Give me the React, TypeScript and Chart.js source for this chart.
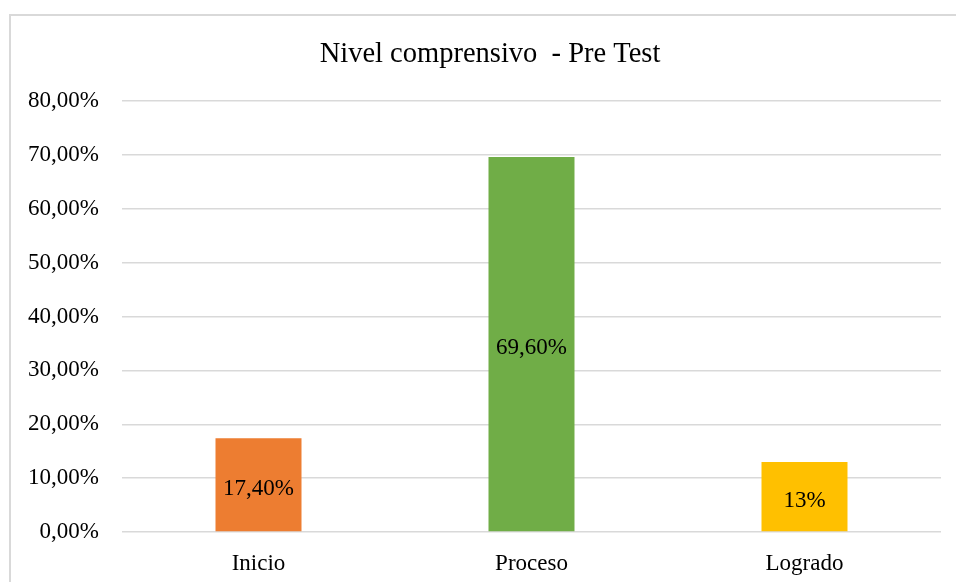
import React, { useEffect, useRef } from "react";
import { Chart, registerables } from "chart.js";

Chart.register(...registerables);

const categories = ["Inicio", "Proceso", "Logrado"];
const values = [17.4, 69.6, 13];
const valueLabels = ["17,40%", "69,60%", "13%"];
const barColors = ["#ED7D31", "#70AD47", "#FFC000"];
const titleText = "Nivel comprensivo  - Pre Test";
const yMax = 80;
const yStep = 10;

const FONT = '"Liberation Serif", "Times New Roman", serif';

export default function App() {
  const ref = useRef<HTMLCanvasElement | null>(null);

  useEffect(() => {
    const canvas = ref.current;
    if (!canvas) return;

    const valueLabelPlugin = {
      id: "valueLabels",
      afterLayout(chart: any) {
        const tb = chart.titleBlock;
        if (tb) {
          tb.left = 0;
          tb.right = 958;
          tb.width = 958;
        }
      },
      afterDatasetsDraw(chart: any) {
        const ctx = chart.ctx;
        const meta = chart.getDatasetMeta(0);
        ctx.save();
        ctx.font = `23px ${FONT}`;
        ctx.fillStyle = "#000000";
        ctx.textAlign = "center";
        ctx.textBaseline = "middle";
        meta.data.forEach((bar: any, i: number) => {
          const p = bar.getProps(["x", "y", "base"], true);
          const cy = (p.y + p.base) / 2 + 4;
          ctx.fillText(valueLabels[i], p.x, cy);
        });
        ctx.restore();
      },
    };

    const chart = new Chart(canvas, {
      type: "bar",
      data: {
        labels: categories,
        datasets: [
          {
            data: values,
            backgroundColor: barColors,
            borderWidth: 0,
            barPercentage: 0.315,
            categoryPercentage: 1,
          },
        ],
      },
      options: {
        animation: false,
        responsive: false,
        devicePixelRatio: 1,
        layout: {
          padding: { left: 17, right: 28, top: 0, bottom: 30.4 },
        },
        plugins: {
          legend: { display: false },
          tooltip: { enabled: false },
          title: {
            display: true,
            text: titleText,
            color: "#000000",
            font: { family: FONT, size: 28.5, weight: "normal" },
            padding: { top: 21, bottom: 29.8 },
          },
        },
        scales: {
          x: {
            grid: { display: false, drawTicks: false },
            border: { display: false },
            afterFit: (scale: any) => {
              scale.height = 53.6;
            },
            ticks: {
              color: "#000000",
              font: { family: FONT, size: 23 },
              padding: 18,
            },
          },
          y: {
            min: 0,
            max: yMax,
            afterFit: (scale: any) => {
              scale.width = 94;
            },
            grid: {
              color: "#d9d9d9",
              lineWidth: 1.5,
              drawTicks: false,
            },
            border: { display: false },
            ticks: {
              stepSize: yStep,
              color: "#000000",
              font: { family: FONT, size: 23 },
              padding: 23,
              callback: (v: any) => Number(v).toFixed(2).replace(".", ",") + "%",
            },
          },
        },
      },
      plugins: [valueLabelPlugin],
    });

    return () => chart.destroy();
  }, []);

  return (
    <div
      style={{
        position: "fixed",
        left: 0,
        top: 0,
        width: 956,
        height: 582,
        overflow: "hidden",
        background: "#ffffff",
      }}
    >
      <div
        style={{
          position: "absolute",
          left: 9,
          top: 14,
          width: 1000,
          height: 640,
          border: "2px solid #d9d9d9",
          background: "#ffffff",
        }}
      >
        <canvas
          ref={ref}
          width={958}
          height={600}
          style={{ display: "block", width: 958, height: 600 }}
        />
      </div>
    </div>
  );
}
